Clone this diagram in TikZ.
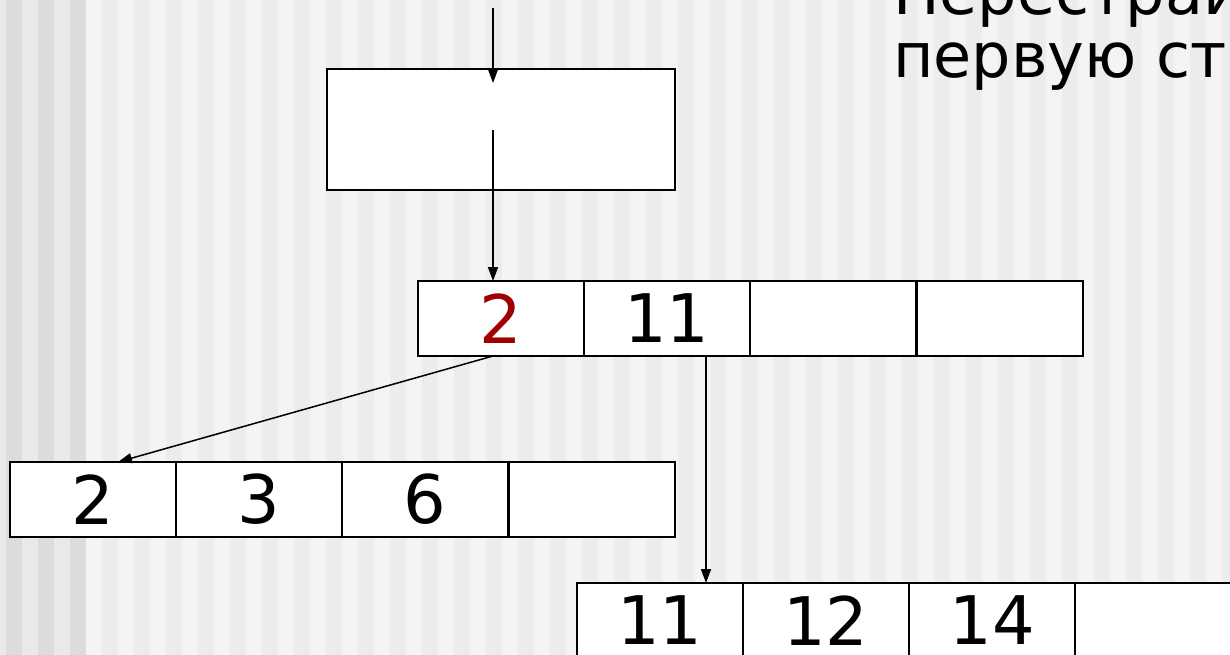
\documentclass[tikz,border=0pt]{standalone}
\usepackage{fontspec}
\setmainfont{DejaVu Sans}
\usetikzlibrary{arrows.meta}
\definecolor{stripeA}{HTML}{F4F4F4}
\definecolor{stripeB}{HTML}{ECECEC}
\definecolor{stripeC}{HTML}{DCDCDC}
\definecolor{stripeD}{HTML}{E9E9E9}
\definecolor{keyred}{RGB}{160,0,0}
\begin{document}
\begin{tikzpicture}[x=1pt,y=-1pt,
  cell/.style={draw=black, line width=2pt, fill=white, minimum width=166pt,
    minimum height=75pt, inner sep=0pt, outer sep=0pt, anchor=north west,
    font=\fontsize{67}{67}\selectfont},
  bigbox/.style={draw=black, line width=2.2pt, fill=white, minimum width=348pt,
    minimum height=121pt, inner sep=0pt, outer sep=0pt, anchor=north west},
  link/.style={line width=1.5pt, -{Triangle[length=14pt,width=10pt]}},
  caption/.style={font=\fontsize{62}{62}\selectfont, anchor=base west, inner sep=0pt}]
\useasboundingbox (0,0) rectangle (1230,655);
\clip (0,0) rectangle (1230,655);
% background stripes
\fill[stripeD] (0,0) rectangle (86,655);
\foreach \x in {6,38,70} \fill[stripeC] (\x,0) rectangle ++(16,655);
\fill[stripeA] (86,0) rectangle (1230,655);
\foreach \x in {102,134,...,1222} \fill[stripeB] (\x,0) rectangle ++(16,655);
% caption
\node[caption] (t1) at (893,15) {Перестраив};
\node[caption] (t2) at (893,78) {первую ст};
% nodes
\node[bigbox] (top) at (327,69) {};
\node[cell] (r2a) at (418,281) {\textcolor{keyred}{2}};
\node[cell] (r2b) at (584,281) {11};
\node[cell] (r2c) at (750,281) {};
\node[cell] (r2d) at (917,281) {};
\node[cell] (r3a) at (10,462) {2};
\node[cell] (r3b) at (176,462) {3};
\node[cell] (r3c) at (342,462) {6};
\node[cell] (r3d) at (509,462) {};
\node[cell] (r4a) at (577,583) {11};
\node[cell] (r4b) at (743,583) {12};
\node[cell] (r4c) at (909,583) {14};
\node[cell] (r4d) at (1075,583) {};
% connectors
\coordinate (inS) at (493,8);
\coordinate (inE) at (493,83);
\coordinate (midS) at (493,130);
\draw[link] (inS) -- (inE);
\draw[link] (midS) -- (midS |- r2a.north);
\draw[link] ([xshift=-8pt]r2a.south) -- ([xshift=25pt]r3a.north);
\draw[link] ([xshift=39pt]r2b.south) -- ([xshift=39pt]r2b.south |- r4a.north);
\end{tikzpicture}
\end{document}
